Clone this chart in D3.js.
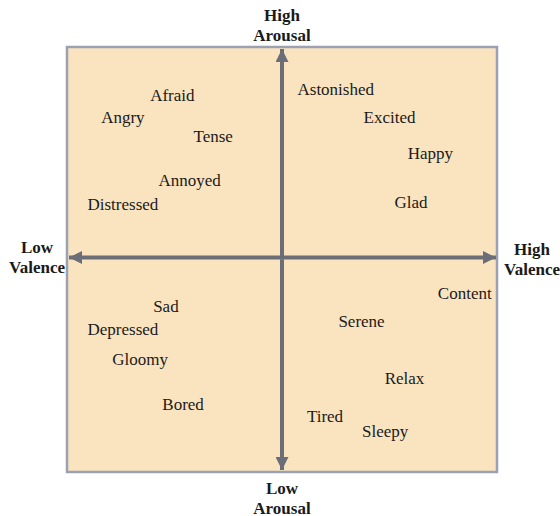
<!DOCTYPE html>
<html>
<head>
<meta charset="utf-8">
<script src="https://cdn.jsdelivr.net/npm/d3@7"></script>
<style>
  body { margin: 0; background: #fff; }
  text { font-family: "Liberation Serif", "DejaVu Serif", serif; }
</style>
</head>
<body>
<div id="chart"></div>
<script>
// Emotion words placed on valence (x) / arousal (y), both -1..1
const words = ['Afraid', 'Angry', 'Tense', 'Annoyed', 'Distressed',
  'Astonished', 'Excited', 'Happy', 'Glad',
  'Content', 'Serene', 'Relax', 'Tired', 'Sleepy',
  'Sad', 'Depressed', 'Gloomy', 'Bored'];
const valence = [-0.51, -0.74, -0.32, -0.43, -0.74,
  0.25, 0.50, 0.69, 0.60,
  0.85, 0.37, 0.57, 0.20, 0.48,
  -0.54, -0.74, -0.66, -0.46];
const arousal = [0.77, 0.67, 0.58, 0.37, 0.26,
  0.80, 0.67, 0.50, 0.27,
  -0.16, -0.29, -0.56, -0.74, -0.81,
  -0.22, -0.33, -0.47, -0.68];

// Axis end labels
const axisLabels = [
  { lines: ['High', 'Arousal'], v: 0, a: 1, side: 'top' },
  { lines: ['Low', 'Arousal'], v: 0, a: -1, side: 'bottom' },
  { lines: ['Low', 'Valence'], v: -1, a: 0, side: 'left' },
  { lines: ['High', 'Valence'], v: 1, a: 0, side: 'right' }
];

const width = 560;
const height = 516;
const fontFamily = '"Liberation Serif", "DejaVu Serif", serif';

const svg = d3.select('#chart')
  .append('svg')
  .attr('width', width)
  .attr('height', height)
  .style('display', 'block');

const x = d3.scaleLinear().domain([-1, 1]).range([67, 497]);
const y = d3.scaleLinear().domain([-1, 1]).range([472, 47]);

const axisColor = '#6b6e76';

// arrow head
svg.append('defs').append('marker')
  .attr('id', 'arrow')
  .attr('markerUnits', 'userSpaceOnUse')
  .attr('viewBox', '0 0 12 12')
  .attr('refX', 12)
  .attr('refY', 6)
  .attr('markerWidth', 13)
  .attr('markerHeight', 13)
  .attr('orient', 'auto')
  .append('path')
  .attr('d', 'M0,0 L12,6 L0,12 Z')
  .attr('fill', axisColor);

// background box
svg.append('rect')
  .attr('x', x(-1))
  .attr('y', y(1))
  .attr('width', x(1) - x(-1))
  .attr('height', y(-1) - y(1))
  .attr('fill', '#fae4c0')
  .attr('stroke', '#9ba1b2')
  .attr('stroke-width', 2.5);

// vertical axis, two arrows from the centre
[[0, 1], [0, -1]].forEach(function (d) {
  svg.append('line')
    .attr('x1', x(0)).attr('y1', y(0))
    .attr('x2', x(d[0])).attr('y2', y(d[1]) + (d[1] > 0 ? 2 : -2))
    .attr('stroke', axisColor)
    .attr('stroke-width', 4)
    .attr('marker-end', 'url(#arrow)');
});
// horizontal axis
[[-1, 0], [1, 0]].forEach(function (d) {
  svg.append('line')
    .attr('x1', x(0)).attr('y1', y(0) - 2)
    .attr('x2', x(d[0]) + (d[0] < 0 ? 2 : -1)).attr('y2', y(d[1]) - 2)
    .attr('stroke', axisColor)
    .attr('stroke-width', 4)
    .attr('marker-end', 'url(#arrow)');
});

// emotion words
svg.selectAll('.word')
  .data(words)
  .enter()
  .append('text')
  .attr('class', 'word')
  .attr('x', (d, i) => x(valence[i]))
  .attr('y', (d, i) => y(arousal[i]))
  .attr('text-anchor', 'middle')
  .attr('dominant-baseline', 'central')
  .attr('font-family', fontFamily)
  .attr('font-size', 17)
  .attr('fill', '#1a1a1a')
  .text(d => d);

// axis end labels
const offsets = {
  top: [0, -32],
  bottom: [0, 16],
  left: [-30, -13],
  right: [35, -11]
};
axisLabels.forEach(function (l) {
  const o = offsets[l.side];
  const t = svg.append('text')
    .attr('x', x(l.v) + o[0])
    .attr('y', y(l.a) + o[1])
    .attr('text-anchor', 'middle')
    .attr('dominant-baseline', 'central')
    .attr('font-family', fontFamily)
    .attr('font-size', 17)
    .attr('font-weight', 'bold')
    .attr('fill', '#1a1a1a');
  l.lines.forEach(function (s, i) {
    t.append('tspan')
      .attr('x', x(l.v) + o[0])
      .attr('dy', i === 0 ? 0 : 20)
      .text(s);
  });
});
</script>
</body>
</html>
